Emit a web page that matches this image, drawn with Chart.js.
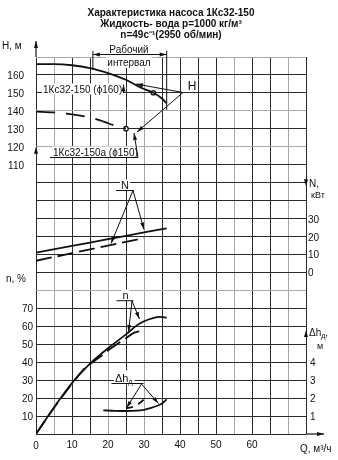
<!DOCTYPE html>
<html lang="ru">
<head>
<meta charset="UTF-8">
<title>Характеристика насоса 1Кс32-150</title>
<style>
  body { margin: 0; background: #fff; }
  #wrap { width: 338px; height: 460px; }
</style>
<script src="https://cdn.jsdelivr.net/npm/chart.js@4"></script>
</head>
<body>
<div id="wrap"><canvas id="pump" width="338" height="460"></canvas></div>
<script>
// Подача Q, м3/ч и кривые для колёс ϕ160 (сплошные) и ϕ150 (пунктир)
const qH160 = [0, 5, 10, 15, 20, 22.6, 25, 28.3, 30, 32.6, 34.9, 36.3];
const h160  = [166, 166, 165.4, 163.8, 161, 159.2, 157.3, 153.8, 152.2, 150.1, 147, 144.2];
const qH150 = [0, 5, 10, 15, 17.8, 20, 22.5, 25];
const h150  = [139.6, 139.1, 138.1, 136.3, 134.7, 133.1, 131.5, 130.1];

// мощность N, кВт
const qN160 = [0, 10, 20, 30, 36.3];
const pow160 = [11, 14.8, 18.5, 22.3, 24.6];
const qN150 = [0, 10, 20, 30];
const pow150 = [6.5, 10.7, 14.9, 19.1];

// КПД n, %
const qEff160 = [0, 5, 10, 15, 20, 25, 28, 30, 32.5, 34.5, 36.3];
const eff160  = [0, 14.8, 28.4, 39.2, 47.8, 55.5, 60.5, 62.8, 64.6, 65.2, 64.8];
const qEff150 = [0, 5, 10, 13, 17.8, 20.1, 24.3, 27.5, 30];
const eff150  = [0, 14.6, 28, 35.5, 43, 46.6, 52.4, 56.6, 57.5];

// допускаемый кавитационный запас Δhд, м
const qDh160 = [18.7, 22, 25, 28, 30, 32, 33.5, 35, 36.3];
const dh160  = [1.32, 1.29, 1.28, 1.3, 1.35, 1.45, 1.56, 1.7, 1.93];
const qDh150 = [25, 27, 28.5, 30];
const dh150  = [1.43, 1.52, 1.68, 1.92];

// отмеченные точки на кривых H
const qMark = [32.6, 25];
const hMark = [150.1, 130.1];

// подписи шкал
const hTicks = [110, 120, 130, 140, 150, 160];
const powTicks = [0, 10, 20, 30];
const effTicks = [10, 20, 30, 40, 50, 60, 70];
const dhTicks = [1, 2, 3, 4];
const qTicks = [10, 20, 30, 40, 50, 60];

// светлые линии сетки
const grayQ = [5, 20, 30, 55, 70];
const grayRow = [8, 16, 18, 21];

const ink = '#111';
const FONT = '"Liberation Sans", Arial, sans-serif';

function pts(xs, ys) {
    return xs.map((x, i) => ({ x: x, y: ys[i] }));
}

function curve(xs, ys, axis, dash) {
    return {
        data: pts(xs, ys),
        yAxisID: axis,
        borderColor: ink,
        borderWidth: 1.8,
        borderDash: dash || [],
        pointRadius: 0,
        fill: false,
        cubicInterpolationMode: 'monotone'
    };
}

function head(ctx, x0, y0, x1, y1) {
    const a = Math.atan2(y1 - y0, x1 - x0);
    const len = 7, half = 2;
    ctx.beginPath();
    ctx.moveTo(x1, y1);
    ctx.lineTo(x1 - len * Math.cos(a) + half * Math.sin(a), y1 - len * Math.sin(a) - half * Math.cos(a));
    ctx.lineTo(x1 - len * Math.cos(a) - half * Math.sin(a), y1 - len * Math.sin(a) + half * Math.cos(a));
    ctx.closePath();
    ctx.fill();
}

function arrow(ctx, x0, y0, x1, y1) {
    ctx.beginPath();
    ctx.moveTo(x0, y0);
    ctx.lineTo(x1, y1);
    ctx.stroke();
    head(ctx, x0, y0, x1, y1);
}

function seg(ctx, x0, y0, x1, y1) {
    ctx.beginPath();
    ctx.moveTo(x0, y0);
    ctx.lineTo(x1, y1);
    ctx.stroke();
}

function text(ctx, s, x, y, align, font, box) {
    ctx.font = font;
    ctx.textAlign = align;
    ctx.textBaseline = 'alphabetic';
    if (box) {
        const w = ctx.measureText(s).width;
        const left = align === 'center' ? x - w / 2 : (align === 'right' ? x - w : x);
        ctx.fillStyle = '#fff';
        ctx.fillRect(left - 1, y - 9, w + 2, 11);
        ctx.fillStyle = ink;
    }
    ctx.fillText(s, x, y);
}

// подпись Δhд с нижним индексом
function dhLabel(ctx, x, y, size, box) {
    ctx.font = size + 'px ' + FONT;
    const w1 = ctx.measureText('Δh').width;
    ctx.font = Math.round(size * 0.65) + 'px ' + FONT;
    const w2 = ctx.measureText('д').width;
    if (box) {
        ctx.fillStyle = '#fff';
        ctx.fillRect(x - 1, y - size, w1 + w2 + 3, size + 3);
        ctx.fillStyle = ink;
    }
    ctx.textAlign = 'left';
    ctx.textBaseline = 'alphabetic';
    ctx.font = size + 'px ' + FONT;
    ctx.fillText('Δh', x, y);
    ctx.font = Math.round(size * 0.65) + 'px ' + FONT;
    ctx.fillText('д', x + w1, y + 2);
    return w1 + w2;
}

const decor = {
    id: 'decor',
    afterDraw(chart) {
        const ctx = chart.ctx;
        const a = chart.chartArea;
        const sx = chart.scales.x, sH = chart.scales.yH, sN = chart.scales.yN;
        const sE = chart.scales.yE, sD = chart.scales.yD;
        ctx.save();
        ctx.fillStyle = ink;
        ctx.strokeStyle = ink;
        ctx.lineWidth = 1;

        // заголовок
        const tf = 'bold 10px ' + FONT;
        text(ctx, 'Характеристика насоса 1Кс32-150', 171, 16, 'center', tf);
        text(ctx, 'Жидкость- вода p=1000 кг/м³', 171, 27, 'center', tf);
        text(ctx, 'n=49с⁻¹(2950 об/мин)', 171, 38, 'center', tf);

        // оси со стрелками
        ctx.lineWidth = 1.2;
        arrow(ctx, a.left, a.top, a.left, a.top - 16);
        arrow(ctx, a.right, a.bottom, a.right + 18, a.bottom);
        head(ctx, a.left, sE.getPixelForValue(120), a.left, sE.getPixelForValue(160));
        head(ctx, a.right, sN.getPixelForValue(55), a.right, sN.getPixelForValue(48));
        head(ctx, a.right, sD.getPixelForValue(5), a.right, sD.getPixelForValue(5.8));
        ctx.lineWidth = 1;

        const f10 = '10px ' + FONT;
        // подписи осей
        text(ctx, 'Н, м', 2, 49, 'left', f10);
        text(ctx, 'n, %', 6, 282, 'left', f10);
        text(ctx, 'N,', 309, 187, 'left', f10);
        text(ctx, 'кВт', 311, 198, 'left', '9px ' + FONT);
        const w = dhLabel(ctx, 309, 336, 10, false);
        text(ctx, ',', 309 + w, 336, 'left', f10);
        text(ctx, 'м', 317, 349, 'left', '9px ' + FONT);
        text(ctx, 'Q, м³/ч', 300, 452, 'left', f10);

        // подписи делений
        hTicks.forEach(v => text(ctx, String(v), 24, sH.getPixelForValue(v) + 4, 'right', f10));
        effTicks.forEach(v => text(ctx, String(v), 33, sE.getPixelForValue(v) + 4, 'right', f10));
        powTicks.forEach(v => text(ctx, String(v), 308, sN.getPixelForValue(v) + 4, 'left', f10));
        dhTicks.forEach(v => text(ctx, String(v), 310, sD.getPixelForValue(v) + 4, 'left', f10));
        text(ctx, '0', a.left, a.bottom + 15, 'center', f10);
        qTicks.forEach(v => text(ctx, String(v), sx.getPixelForValue(v), a.bottom + 14, 'center', f10));

        // рабочий интервал
        const x1 = sx.getPixelForValue(15.8), x2 = sx.getPixelForValue(36.3);
        seg(ctx, x1, 51, x1, 70);
        seg(ctx, x2, 51, x2, 110);
        arrow(ctx, (x1 + x2) / 2, 54.5, x1, 54.5);
        arrow(ctx, (x1 + x2) / 2, 54.5, x2, 54.5);
        text(ctx, 'Рабочий', 129, 52.5, 'center', f10);
        text(ctx, 'интервал', 129, 66, 'center', f10, true);

        // марки колёс
        text(ctx, '1Кс32-150 (ϕ160)', 43, 92.5, 'left', f10, true);
        arrow(ctx, 123.5, 93, 123.5, 84.5);
        text(ctx, '1Кс32-150а (ϕ150)', 53, 155.5, 'left', f10, true);
        seg(ctx, 50, 157.5, 138, 157.5);
        arrow(ctx, 138, 157.5, 134, 133);

        // H
        text(ctx, 'H', 192, 89.5, 'center', '12px ' + FONT, true);
        arrow(ctx, 183, 92.5, 136, 84);
        arrow(ctx, 183, 92.5, 137, 132);

        // N
        text(ctx, 'N', 125, 188.5, 'center', '11px ' + FONT, true);
        seg(ctx, 116, 190.5, 134, 190.5);
        arrow(ctx, 133, 190.5, 111, 243.5);
        arrow(ctx, 133, 190.5, 144, 229.5);

        // n
        text(ctx, 'n', 125.5, 298.5, 'center', '11px ' + FONT, true);
        seg(ctx, 116.5, 300.7, 133.5, 300.7);
        arrow(ctx, 132, 301, 139.5, 319);
        arrow(ctx, 132, 301, 128.5, 332);

        // Δhд
        dhLabel(ctx, 115, 381.5, 11, true);
        seg(ctx, 111.5, 383.5, 143.5, 383.5);
        arrow(ctx, 141.5, 384, 126.5, 408);
        arrow(ctx, 141.5, 384, 158.5, 403.5);

        ctx.restore();
    }
};

const gridColor = (list) => (c) => list.includes(c.tick.value) ? '#a8a8a8' : '#2a2a2a';

new Chart(document.getElementById('pump'), {
    type: 'line',
    data: {
        datasets: [
            curve(qH160, h160, 'yH'),
            curve(qH150, h150, 'yH', [19, 11]),
            curve(qN160, pow160, 'yN'),
            curve(qN150, pow150, 'yN', [16, 6]),
            curve(qEff160, eff160, 'yE'),
            curve(qEff150, eff150, 'yE', [16, 6]),
            curve(qDh160, dh160, 'yD'),
            curve(qDh150, dh150, 'yD', [7, 6]),
            {
                data: pts(qMark, hMark),
                yAxisID: 'yH',
                showLine: false,
                pointRadius: 2.2,
                pointBackgroundColor: '#fff',
                pointBorderColor: ink,
                pointBorderWidth: 1.3
            }
        ]
    },
    options: {
        responsive: false,
        animation: false,
        devicePixelRatio: 1,
        layout: { padding: { left: 36, right: 32, top: 57, bottom: 26 } },
        plugins: { legend: { display: false }, tooltip: { enabled: false }, title: { display: false } },
        scales: {
            x: {
                type: 'linear', min: 0, max: 75,
                ticks: { stepSize: 5, display: false },
                grid: { drawTicks: false, color: gridColor(grayQ), lineWidth: 1 },
                border: { display: false }
            },
            y: {
                type: 'linear', min: 0, max: 21,
                ticks: { stepSize: 1, display: false },
                grid: { drawTicks: false, color: gridColor(grayRow), lineWidth: 1 },
                border: { display: false }
            },
            yH: { type: 'linear', display: false, min: -40, max: 170 },
            yN: { type: 'linear', display: false, min: -90, max: 120 },
            yE: { type: 'linear', display: false, min: 0, max: 210 },
            yD: { type: 'linear', display: false, min: 0, max: 21 }
        }
    },
    plugins: [decor]
});
</script>
</body>
</html>
